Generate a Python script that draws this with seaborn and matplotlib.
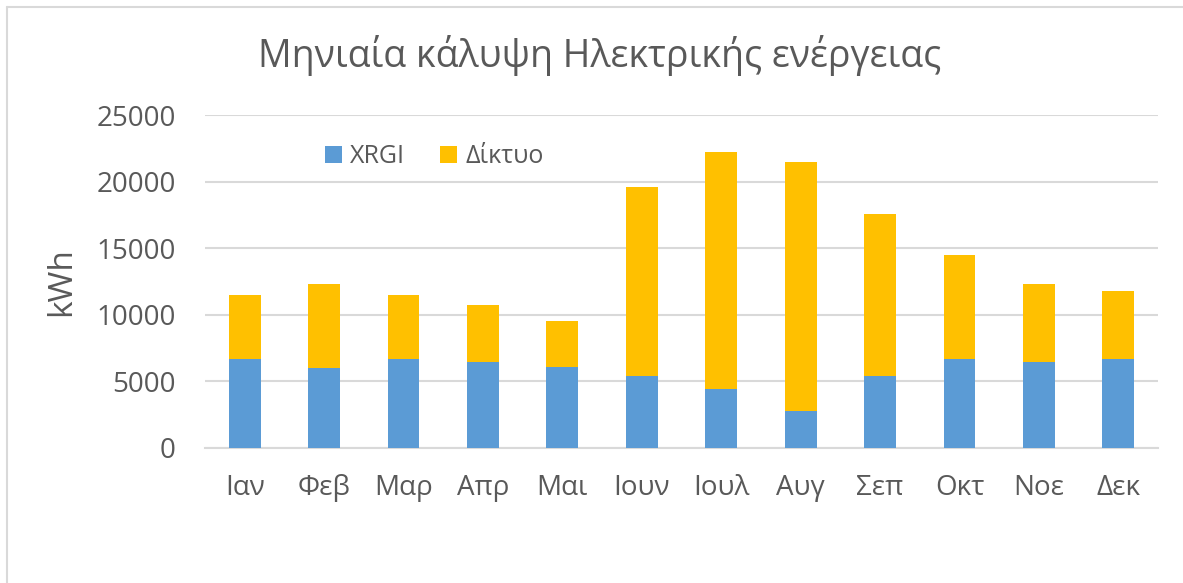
import numpy as np
import pandas as pd
import seaborn as sns
import matplotlib.pyplot as plt
from matplotlib.patches import Patch
from matplotlib.lines import Line2D

# ---- data (kWh per month) ----
months = ["Ιαν", "Φεβ", "Μαρ", "Απρ", "Μαι", "Ιουν", "Ιουλ", "Αυγ", "Σεπ", "Οκτ", "Νοε", "Δεκ"]
xrgi = [6700, 6000, 6700, 6450, 6100, 5400, 4450, 2800, 5400, 6700, 6450, 6700]
diktyo = [4800, 6300, 4800, 4250, 3450, 14200, 17750, 18700, 12200, 7800, 5850, 5100]
yticks = [0, 5000, 10000, 15000, 20000, 25000]

df = pd.DataFrame({"month": months, "XRGI": xrgi, "Δίκτυο": diktyo})
df["total"] = df["XRGI"] + df["Δίκτυο"]

blue = "#5B9BD5"
yellow = "#FFC000"
grey_txt = "#595959"
grid_c = "#D9D9D9"

sns.set_theme(style="white")
plt.rcParams["font.family"] = ["Open Sans", "DejaVu Sans"]

W, H = 1183, 583
fig = plt.figure(figsize=(W / 100, H / 100), dpi=100)
ax = fig.add_axes([205 / W, 1 - 448 / H, (1158 - 205) / W, (448 - 115) / H])

# stacked bars: total first (grid part on top), XRGI drawn over it
sns.barplot(data=df, x="month", y="total", color=yellow, saturation=1,
            width=0.4, linewidth=0, ax=ax, zorder=3)
sns.barplot(data=df, x="month", y="XRGI", color=blue, saturation=1,
            width=0.4, linewidth=0, ax=ax, zorder=4)

ax.set_xlim(-0.5, len(months) - 0.5)
ax.set_ylim(0, 25000)
ax.set_yticks(yticks)
ax.set_yticklabels([str(v) for v in yticks])
ax.yaxis.grid(True, color=grid_c, linewidth=1.5, zorder=0)
ax.set_axisbelow(True)
for s in ["left", "right", "top"]:
    ax.spines[s].set_visible(False)
ax.spines["bottom"].set_color(grid_c)
ax.spines["bottom"].set_linewidth(1.5)
ax.tick_params(axis="both", length=0, labelsize=20, labelcolor=grey_txt)
ax.tick_params(axis="y", pad=21)
ax.tick_params(axis="x", pad=19)
ax.set_xlabel("")
ax.set_ylabel("kWh", fontsize=24, color=grey_txt)
ax.yaxis.set_label_coords(-(205 - 78) / (1158 - 205), 0.5)

fig.text(0.507, 1 - 56 / H, "Μηνιαία κάλυψη Ηλεκτρικής ενέργειας",
         ha="center", va="center", fontsize=27, color=grey_txt)

handles = [Patch(facecolor=blue, edgecolor="none"), Patch(facecolor=yellow, edgecolor="none")]
fig.legend(handles, ["XRGI", "Δίκτυο"], loc="center left",
           bbox_to_anchor=(325 / W, 1 - 157 / H), ncol=2, frameon=False,
           fontsize=18, labelcolor=grey_txt, borderpad=0, borderaxespad=0,
           handlelength=0.68, handleheight=0.68, handletextpad=0.32,
           columnspacing=1.4)

# chart area border (top + left visible)
fig.add_artist(Line2D([7 / W, 7 / W], [0, 1 - 7 / H], color=grid_c, lw=1.5))
fig.add_artist(Line2D([7 / W, 1], [1 - 7 / H, 1 - 7 / H], color=grid_c, lw=1.5))

fig.savefig("out.png", dpi=100)
